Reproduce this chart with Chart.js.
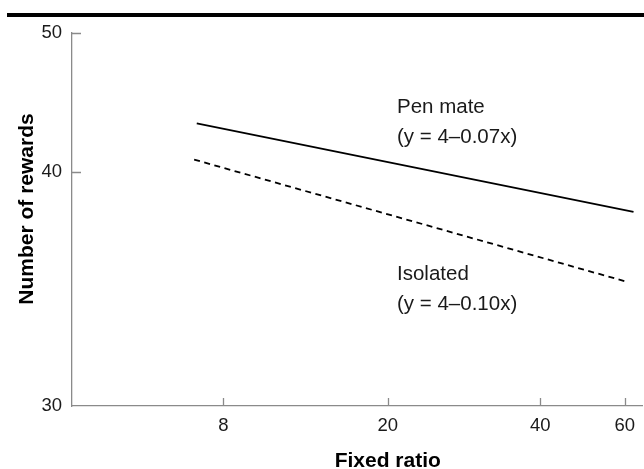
<!DOCTYPE html>
<html>
<head>
<meta charset="utf-8">
<script src="https://cdn.jsdelivr.net/npm/chart.js@4/dist/chart.umd.min.js"></script>
<style>
  html, body { margin: 0; padding: 0; background: #fff; }
  #wrap { width: 644px; height: 469px; }
</style>
</head>
<body>
<div id="wrap"><canvas id="chart"></canvas></div>
<script>
// ── Data ─────────────────────────────────────────────────────────────────────

const RATIO_TICKS = [8, 20, 40, 60];
const REWARD_TICKS = [30, 40, 50];

const PEN_MATE_X = [6.9, 62.6];
const PEN_MATE_Y = [43.5, 38.3];
const ISOLATED_X = [6.8, 60.9];
const ISOLATED_Y = [40.9, 35.3];

const PEN_MATE_LABEL = ["Pen mate", "(y = 4–0.07x)"];
const ISOLATED_LABEL = ["Isolated", "(y = 4–0.10x)"];

// ── Layout: where each tick sits along its axis (fraction of the axis) ──────

const RATIO_TICK_POS = [0.265, 0.553, 0.820, 0.968];
const REWARD_TICK_POS = [0, 0.627, 1];

const AXIS_GREY = "#8a8a8a";
const TEXT = "#1a1a1a";
const FONT = "'Liberation Sans', Arial, Helvetica, sans-serif";

// ── Piecewise axis (the printed axes are not evenly spaced) ─────────────────

class AnchoredScale extends Chart.LinearScale {
    _anchors() {
        if (this.isHorizontal()) {
            return { vals: RATIO_TICKS, pos: RATIO_TICK_POS, t: Math.log };
        }
        return { vals: REWARD_TICKS, pos: REWARD_TICK_POS, t: (v) => v };
    }

    buildTicks() {
        return this._anchors().vals.map((v) => ({ value: v }));
    }

    _fraction(value) {
        const { vals, pos, t } = this._anchors();
        let i = 0;
        while (i < vals.length - 2 && value > vals[i + 1]) i++;
        const k = (t(value) - t(vals[i])) / (t(vals[i + 1]) - t(vals[i]));
        return pos[i] + k * (pos[i + 1] - pos[i]);
    }

    getPixelForValue(value) {
        const f = this._fraction(value);
        return this.isHorizontal() ? this.left + f * this.width : this.bottom - f * this.height;
    }

    getValueForPixel(pixel) {
        const f = this.isHorizontal() ? (pixel - this.left) / this.width : (this.bottom - pixel) / this.height;
        const { vals, pos, t } = this._anchors();
        let i = 0;
        while (i < pos.length - 2 && f > pos[i + 1]) i++;
        const k = (f - pos[i]) / (pos[i + 1] - pos[i]);
        const tv = t(vals[i]) + k * (t(vals[i + 1]) - t(vals[i]));
        return this.isHorizontal() ? Math.exp(tv) : tv;
    }
}
AnchoredScale.id = "anchored";
AnchoredScale.defaults = Chart.LinearScale.defaults;
Chart.register(AnchoredScale);

// ── Extra drawing: top rule, inward ticks, axis titles, line labels ─────────

const decorations = {
    id: "decorations",
    beforeDraw(chart) {
        const ctx = chart.ctx;
        ctx.save();
        ctx.strokeStyle = "#000";
        ctx.lineWidth = 4;
        ctx.beginPath();
        ctx.moveTo(7, 15);
        ctx.lineTo(644, 15);
        ctx.stroke();
        ctx.restore();
    },
    afterDraw(chart) {
        const ctx = chart.ctx;
        const xs = chart.scales.x;
        const ys = chart.scales.y;
        ctx.save();

        // tick marks point into the plot
        ctx.strokeStyle = AXIS_GREY;
        ctx.lineWidth = 1.3;
        ctx.beginPath();
        xs.ticks.forEach((tk) => {
            const px = Math.round(xs.getPixelForValue(tk.value)) + 0.5;
            ctx.moveTo(px, xs.top);
            ctx.lineTo(px, xs.top - 8);
        });
        ys.ticks.forEach((tk) => {
            if (tk.value === REWARD_TICKS[0]) return;
            const py = Math.round(ys.getPixelForValue(tk.value)) + 0.5;
            ctx.moveTo(ys.right, py);
            ctx.lineTo(ys.right + 9, py);
        });
        ctx.stroke();

        // axis titles
        ctx.fillStyle = "#000";
        ctx.font = "bold 21px " + FONT;
        ctx.textAlign = "center";
        ctx.textBaseline = "alphabetic";
        ctx.fillText("Fixed ratio", xs.getPixelForValue(RATIO_TICKS[1]), 467);
        ctx.save();
        ctx.translate(33, 209);
        ctx.rotate(-Math.PI / 2);
        ctx.fillText("Number of rewards", 0, 0);
        ctx.restore();

        // line labels
        ctx.fillStyle = TEXT;
        ctx.font = "20.5px " + FONT;
        ctx.textAlign = "left";
        const lx = 397;
        ctx.fillText(PEN_MATE_LABEL[0], lx, 112.5);
        ctx.fillText(PEN_MATE_LABEL[1], lx, 142.5);
        ctx.fillText(ISOLATED_LABEL[0], lx, 279.5);
        ctx.fillText(ISOLATED_LABEL[1], lx, 309.5);
        ctx.restore();
    },
};

// ── Chart ────────────────────────────────────────────────────────────────────

const toPoints = (xs, ys) => xs.map((x, i) => ({ x, y: ys[i] }));

new Chart(document.getElementById("chart"), {
    type: "line",
    data: {
        datasets: [
            {
                label: "Pen mate",
                data: toPoints(PEN_MATE_X, PEN_MATE_Y),
                borderColor: "#000",
                borderWidth: 1.8,
                pointRadius: 0,
                fill: false,
            },
            {
                label: "Isolated",
                data: toPoints(ISOLATED_X, ISOLATED_Y),
                borderColor: "#000",
                borderWidth: 1.8,
                borderDash: [6, 4.5],
                pointRadius: 0,
                fill: false,
            },
        ],
    },
    options: {
        responsive: true,
        maintainAspectRatio: false,
        animation: false,
        layout: { padding: { left: 0, top: 33, right: 1, bottom: 0 } },
        plugins: {
            legend: { display: false },
            tooltip: { enabled: false },
        },
        scales: {
            x: {
                type: "anchored",
                position: "bottom",
                min: 3.5,
                max: 66,
                afterFit(scale) { scale.height = 63; },
                grid: { display: false, drawTicks: false },
                border: { display: true, color: AXIS_GREY, width: 1.3 },
                ticks: {
                    autoSkip: false,
                    maxRotation: 0,
                    padding: 9,
                    color: TEXT,
                    font: { family: FONT, size: 18.5 },
                    callback: (v) => String(v),
                },
            },
            y: {
                type: "anchored",
                position: "left",
                min: 30,
                max: 50,
                afterFit(scale) { scale.width = 72; },
                grid: { display: false, drawTicks: false },
                border: { display: true, color: AXIS_GREY, width: 1.3 },
                ticks: {
                    autoSkip: false,
                    padding: 10,
                    color: TEXT,
                    font: { family: FONT, size: 18.5 },
                    callback: (v) => String(v),
                },
            },
        },
    },
    plugins: [decorations],
});
</script>
</body>
</html>
